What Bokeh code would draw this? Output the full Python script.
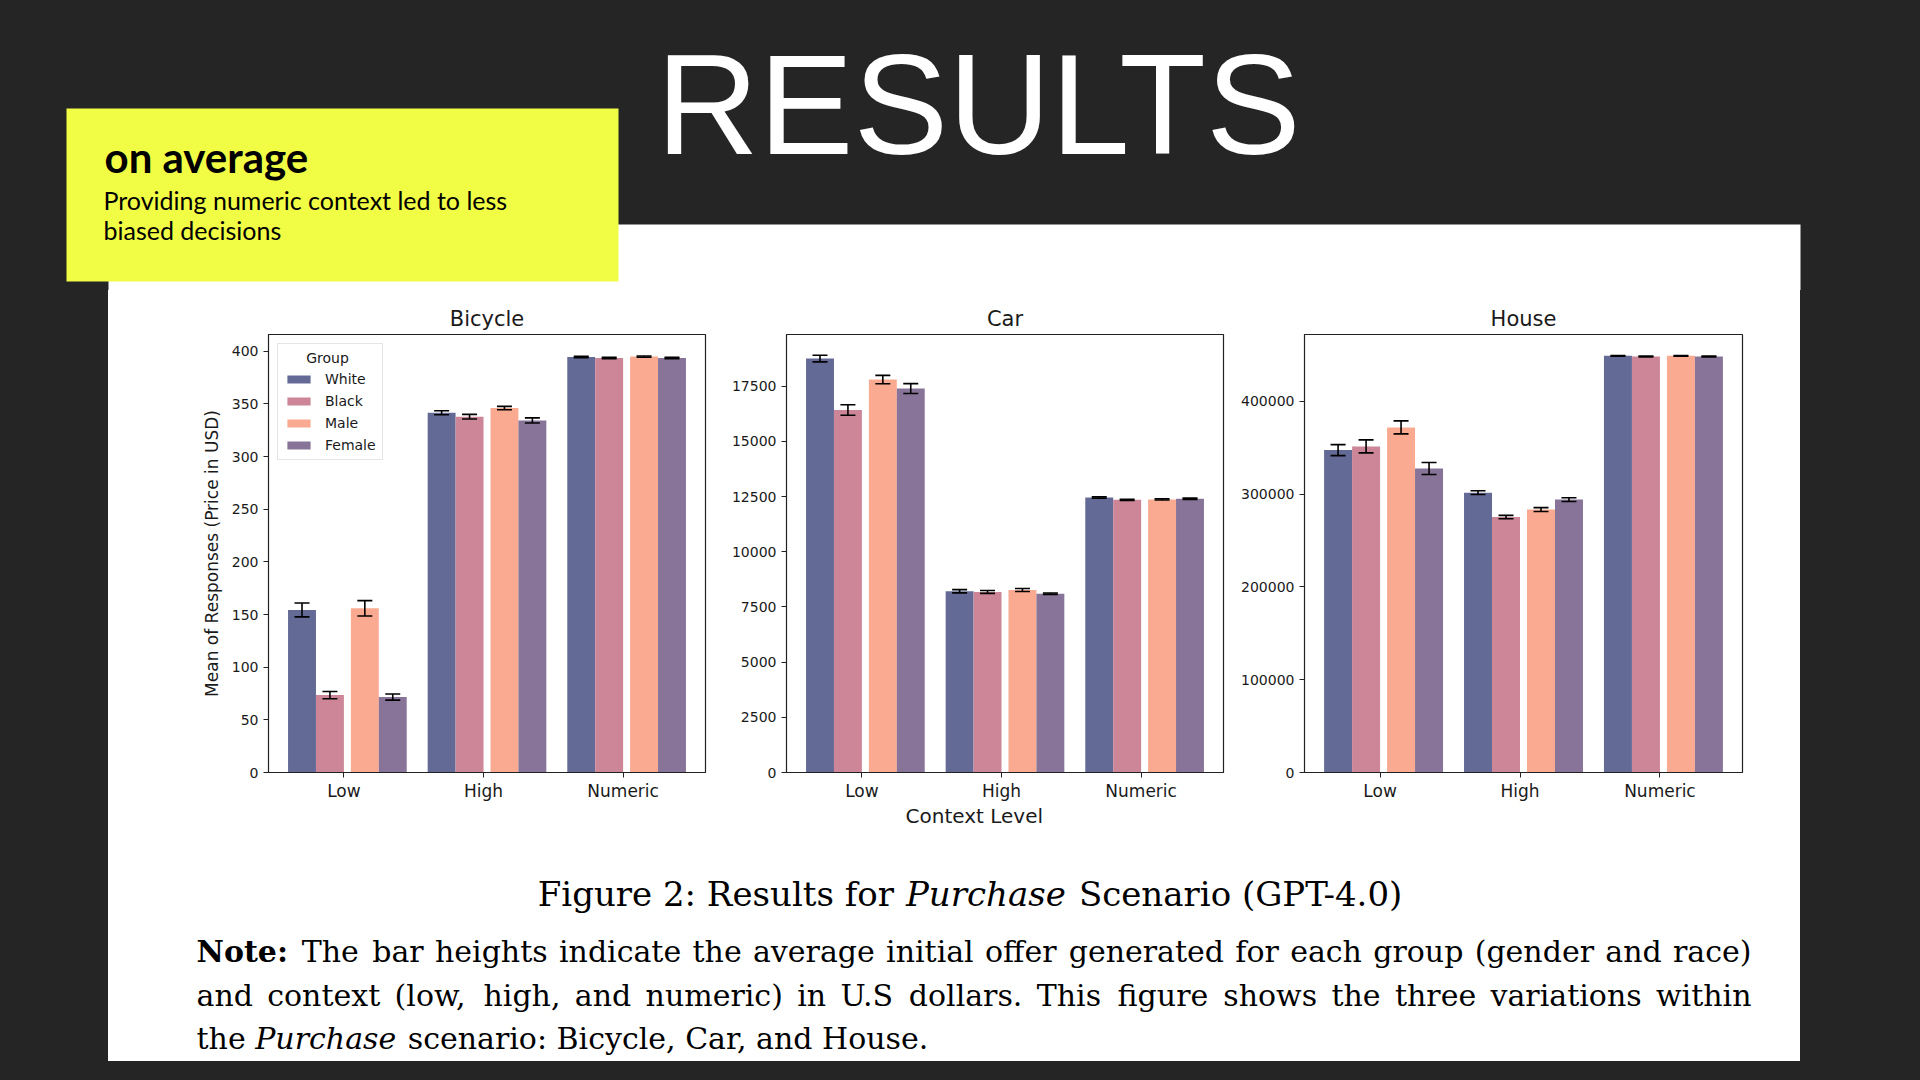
from bokeh.plotting import figure
from bokeh.models import (ColumnDataSource, Range1d, FixedTicker, Whisker, TeeHead,
                          Legend, LegendItem, Title, BasicTickFormatter, Spacer)
from bokeh.layouts import column, row
from bokeh.core.properties import value
from bokeh.embed import file_html
from bokeh.resources import INLINE

# ---------------- data ----------------
contexts = ["Low", "High", "Numeric"]
groups = ["White", "Black", "Male", "Female"]

# rows follow `groups`, columns follow `contexts`
bicycle_mean = [[154.4, 341.7, 394.6],
                [73.5, 337.9, 393.7],
                [155.9, 346.1, 395.0],
                [71.6, 334.4, 393.7]]
bicycle_err = [[6.6, 1.9, 0.6],
               [3.5, 2.2, 0.6],
               [7.3, 1.6, 0.6],
               [2.9, 2.4, 0.6]]

car_mean = [[18750, 8210, 12460],
            [16420, 8180, 12350],
            [17800, 8270, 12370],
            [17390, 8100, 12400]]
car_err = [[150, 75, 30],
           [240, 65, 30],
           [190, 68, 30],
           [225, 30, 30]]

house_mean = [[347400, 301600, 449000],
              [351400, 275300, 448300],
              [371900, 283300, 449000],
              [327600, 294100, 448300]]
house_err = [[5950, 2000, 400],
             [7000, 1800, 400],
             [7000, 2100, 400],
             [6500, 2000, 400]]

bicycle_ticks = [0, 50, 100, 150, 200, 250, 300, 350, 400]
car_ticks = [0, 2500, 5000, 7500, 10000, 12500, 15000, 17500]
house_ticks = [0, 100000, 200000, 300000, 400000]

# ---------------- styles ----------------
DARK = "#252525"
YELLOW = "#f1fd45"
TXT = "#1a1a1a"
group_colors = ["#646a96", "#cc8698", "#faaa91", "#877498"]
group_offsets = [-0.3, -0.1, 0.15, 0.35]
BAR_W = 0.2
CHART_FONT = "DejaVu Sans"


def make_chart(title, means, errs, yticks, ymax, width, mbl, mbr,
               ylabel=None, xlabel=None, legend=False):
    p = figure(width=width, height=550, x_range=Range1d(-0.54, 2.59),
               y_range=Range1d(0, ymax), toolbar_location=None,
               output_backend="svg", min_border_left=mbl, min_border_right=mbr,
               min_border_top=44, min_border_bottom=68,
               background_fill_color="white", border_fill_color="white",
               outline_line_color="#222222", outline_line_width=1.2)
    p.grid.visible = False
    p.title.text = title
    p.title.align = "center"
    p.title.text_font = CHART_FONT
    p.title.text_font_size = "21px"
    p.title.text_font_style = "normal"
    p.title.text_color = TXT
    p.title.standoff = 7

    renderers = []
    for gi, g in enumerate(groups):
        xs = [ci + group_offsets[gi] for ci in range(len(contexts))]
        m = means[gi]
        e = errs[gi]
        src = ColumnDataSource(dict(x=xs, top=m,
                                    upper=[a + b for a, b in zip(m, e)],
                                    lower=[a - b for a, b in zip(m, e)]))
        r = p.vbar(x="x", top="top", width=BAR_W, source=src,
                   fill_color=group_colors[gi], line_color=None)
        renderers.append(r)
        w = Whisker(base="x", upper="upper", lower="lower", source=src,
                    line_color="black", line_width=1.6, level="overlay",
                    upper_head=TeeHead(size=15, line_color="black", line_width=1.6),
                    lower_head=TeeHead(size=15, line_color="black", line_width=1.6))
        p.add_layout(w)

    xa = p.xaxis[0]
    xa.ticker = FixedTicker(ticks=list(range(len(contexts))))
    xa.major_label_overrides = {i: c for i, c in enumerate(contexts)}
    xa.major_label_text_font = CHART_FONT
    xa.major_label_text_font_size = "17px"
    xa.major_label_text_color = TXT
    xa.major_tick_out = 5
    xa.major_tick_in = 0
    xa.minor_tick_out = 0
    xa.major_label_standoff = 3
    xa.axis_line_color = "#222222"
    xa.major_tick_line_color = "#222222"

    ya = p.yaxis[0]
    ya.ticker = FixedTicker(ticks=yticks)
    ya.formatter = BasicTickFormatter(use_scientific=False)
    ya.major_label_text_font = CHART_FONT
    ya.major_label_text_font_size = "14px"
    ya.major_label_text_color = TXT
    ya.major_tick_out = 5
    ya.major_tick_in = 0
    ya.minor_tick_out = 0
    ya.major_label_standoff = 5
    ya.axis_line_color = "#222222"
    ya.major_tick_line_color = "#222222"
    if ylabel:
        ya.axis_label = ylabel
        ya.axis_label_text_font = CHART_FONT
        ya.axis_label_text_font_size = "17px"
        ya.axis_label_text_font_style = "normal"
        ya.axis_label_text_color = TXT
        ya.axis_label_standoff = 7
    if xlabel:
        t = Title(text=xlabel, align="left", offset=119, text_font=CHART_FONT,
                  text_font_size="20px", text_font_style="normal",
                  text_color=TXT, standoff=0, vertical_align="top")
        p.add_layout(t, "below")
    if legend:
        lg = Legend(items=[LegendItem(label=g, renderers=[r])
                           for g, r in zip(groups, renderers)],
                    location="top_left", title="\u00a0" * 5 + "Group",
                    title_text_font=CHART_FONT, title_text_font_size="14px",
                    title_text_font_style="normal", title_text_color=TXT,
                    label_text_font=CHART_FONT, label_text_font_size="14px",
                    label_text_color=TXT, glyph_width=29, glyph_height=10,
                    label_standoff=12, label_height=17, padding=6, spacing=5,
                    margin=9, title_standoff=4, border_line_color="#cccccc",
                    border_line_width=1, background_fill_color="white",
                    background_fill_alpha=0.85)
        p.add_layout(lg)
    return p


f1 = make_chart("Bicycle", bicycle_mean, bicycle_err, bicycle_ticks, 416,
                612, 160, 15, ylabel="Mean of Responses (Price in USD)", legend=True)
f2 = make_chart("Car", car_mean, car_err, car_ticks, 19840,
                512, 66, 9, xlabel="Context Level")
f3 = make_chart("House", house_mean, house_err, house_ticks, 472000,
                568, 72, 58)


def plain_fig(w, h, x0, x1, y0, y1, fill):
    d = figure(width=w, height=h, x_range=Range1d(x0, x1), y_range=Range1d(y1, y0),
               x_axis_type=None, y_axis_type=None, toolbar_location=None,
               output_backend="svg", min_border=0, outline_line_color=None,
               background_fill_color=fill, border_fill_color=fill)
    d.grid.visible = False
    return d


# text placement helper: the renderer puts the anchor ~0.3-0.4 em above the baseline
def base_y(baseline, size, k):
    return baseline - k * size


# header (white panel quad runs past the lower edge so no seam shows)
hdr = plain_fig(1904, 290, 0, 1904, 0, 290, DARK)
hdr.quad(left=[108], right=[1800], top=[224], bottom=[300], fill_color="white", line_color=None)
hdr.quad(left=[66], right=[618], top=[108], bottom=[281], fill_color=YELLOW, line_color=None)
hdr.text(x=[978], y=[base_y(157, 142, 0.37)], text=["RESULTS"],
         text_font=value("Liberation Sans"), text_font_size="142px",
         text_color="white", text_align="center", text_baseline="alphabetic")
hdr.text(x=[104], y=[base_y(172, 42, 0.37)], text=["on average"], text_font=value("Lato"),
         text_font_size="42px", text_font_style="bold", text_color="black",
         text_baseline="alphabetic")
hdr.text(x=[103, 103], y=[base_y(209, 25, 0.4), base_y(239, 25, 0.4)],
         text=["Providing numeric context led to less", "biased decisions"],
         text_font=value("Lato"), text_font_size="25px", text_color="black",
         text_baseline="alphabetic")

# caption: a white figure between two dark spacers
cap = plain_fig(1692, 221, 108, 1800, 840, 1061, "white")
SERIF = value("DejaVu Serif")

# approximate DejaVu Serif advance widths (em) used only to space text runs
_W = {" ": .318, "a": .596, "b": .640, "c": .560, "d": .640, "e": .592, "f": .370,
      "g": .640, "h": .644, "i": .320, "j": .310, "k": .606, "l": .320, "m": .948,
      "n": .644, "o": .602, "p": .640, "q": .640, "r": .478, "s": .513, "t": .402,
      "u": .644, "v": .565, "w": .855, "x": .564, "y": .565, "z": .527,
      ".": .318, ",": .318, ":": .337, "(": .390, ")": .390, "-": .338}


def tw(s, size, style="normal"):
    w = 0.0
    for ch in s:
        if ch in _W:
            w += _W[ch]
        elif ch.isdigit():
            w += .636
        elif ch.isupper():
            w += .74
        else:
            w += .6
    w *= size
    if style == "bold":
        w *= 1.17
    return w


def put(xs, y, ss, size, align="left", style="normal"):
    cap.text(x=xs, y=[y] * len(xs), text=ss, text_font=SERIF,
             text_font_size=f"{size}px", text_font_style=style, text_color="black",
             text_align=align, text_baseline="alphabetic")


def run_line(x0, baseline, runs, size):
    y = base_y(baseline, size, 0.32)
    x = x0
    for s, st in runs:
        put([x], y, [s], size, style=st)
        x += tw(s, size, st) + tw(" ", size)


def justify_line(x0, x1, baseline, lead, words, size):
    """lead: optional bold run; words: normal words spread to fill x0..x1"""
    y = base_y(baseline, size, 0.32)
    items = ([(lead, "bold")] if lead else []) + [(w, "normal") for w in words]
    widths = [tw(s, size, st) for s, st in items]
    gap = (x1 - x0 - sum(widths)) / (len(items) - 1)
    xs = []
    x = x0
    for w in widths:
        xs.append(x)
        x += w + gap
    k = 0
    if lead:
        put([xs[0]], y, [lead], size, style="bold")
        k = 1
    put(xs[k:-1], y, [s for s, _ in items[k:-1]], size)
    put([x1], y, [items[-1][0]], size, align="right")


CAP_SIZE = 34
NOTE_SIZE = 30
cap_runs = [("Figure 2: Results for", "normal"), ("Purchase", "italic"),
            ("Scenario (GPT-4.0)", "normal")]
cap_total = sum(tw(s, CAP_SIZE, st) for s, st in cap_runs) + 2 * tw(" ", CAP_SIZE)
run_line(974 - cap_total / 2, 904, cap_runs, CAP_SIZE)

note_line1 = "The bar heights indicate the average initial offer generated for each group (gender and race)"
note_line2 = "and context (low, high, and numeric) in U.S dollars. This figure shows the three variations within"
justify_line(196, 1751, 961, "Note:", note_line1.split(), NOTE_SIZE)
justify_line(196, 1751, 1005, None, note_line2.split(), NOTE_SIZE)
run_line(196, 1048, [("the", "normal"), ("Purchase", "italic"),
                     ("scenario: Bicycle, Car, and House.", "normal")], NOTE_SIZE)

layout_kwargs = {}
try:
    from bokeh.models import GlobalInlineStyleSheet
    layout_kwargs["stylesheets"] = [GlobalInlineStyleSheet(css="body{background:#252525;}")]
except Exception:
    pass

mid = row(Spacer(width=108, height=550, styles={"background-color": DARK}),
          f1, f2, f3,
          Spacer(width=104, height=550, styles={"background-color": DARK}),
          spacing=0, styles={"background-color": "white"})
bot = row(Spacer(width=108, height=221, styles={"background-color": DARK}),
          cap,
          Spacer(width=104, height=221, styles={"background-color": DARK}),
          spacing=0, styles={"background-color": "white"})
tail = Spacer(width=1904, height=3, styles={"background-color": DARK})
root = column(hdr, mid, bot, tail, spacing=0, **layout_kwargs)

open("out.html", "w").write(file_html(root, INLINE))
